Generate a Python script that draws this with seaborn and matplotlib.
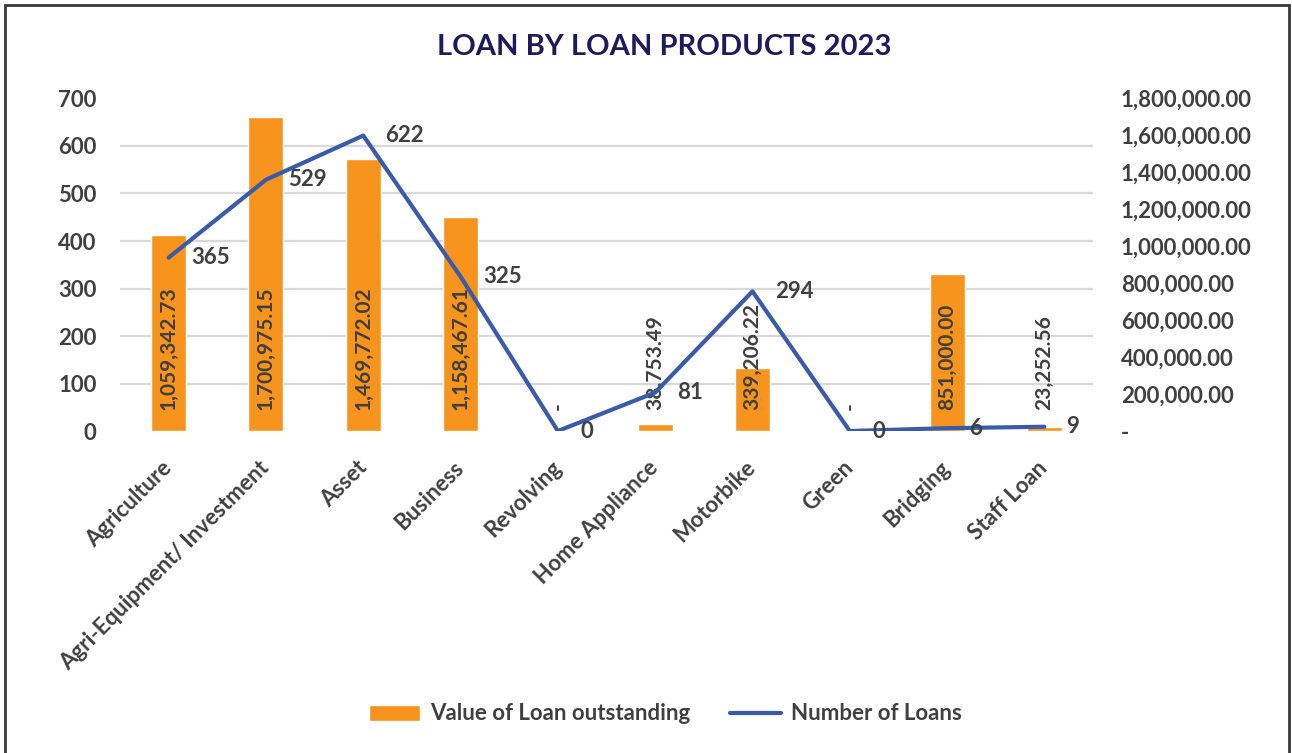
import numpy as np
import pandas as pd
import matplotlib.pyplot as plt
import seaborn as sns
from matplotlib.patches import Rectangle
from matplotlib.ticker import FuncFormatter

# chart data
products = ['Agriculture', 'Agri-Equipment/ Investment', 'Asset', 'Business', 'Revolving',
            'Home Appliance', 'Motorbike', 'Green', 'Bridging', 'Staff Loan']
loan_value = [1059342.73, 1700975.15, 1469772.02, 1158467.61, 0.0,
              38753.49, 339206.22, 0.0, 851000.00, 23252.56]
loan_count = [365, 529, 622, 325, 0, 81, 294, 0, 6, 9]

df = pd.DataFrame({'product': products, 'value': loan_value, 'count': loan_count})

ORANGE = '#F7941D'
BLUE = '#3A5BA9'
GREY_TXT = '#404040'

sns.set_style('white')
plt.rcParams['font.family'] = ['Lato', 'DejaVu Sans']
plt.rcParams['font.weight'] = 'bold'

fig = plt.figure(figsize=(12.92, 7.53), dpi=100)
ax = fig.add_axes([0.0929, 0.4276, 0.7531, 0.4416])

# bars on the value axis (drawn first, shown on the right)
sns.barplot(data=df, x='product', y='value', color=ORANGE, saturation=1,
            width=0.36, ax=ax, label='Value of Loan outstanding')
ax.set_ylim(0, 1800000)
ax.set_xlim(-0.5, len(products) - 0.5)
if ax.get_legend():
    ax.get_legend().remove()

# line on the count axis
ax2 = ax.twinx()
sns.lineplot(data=df, x=df.index, y='count', color=BLUE, lw=3, sort=False,
             ax=ax2, label='Number of Loans')
ax2.set_ylim(0, 700)
ax2.set_yticks(np.arange(0, 701, 100))
ax2.get_legend().remove()

# gridlines follow the left (count) axis: 7 steps of 100 loans
ax.set_yticks(np.linspace(0, 1800000, 8), minor=True)
ax.set_yticks(np.arange(0, 1800001, 200000))
ax.grid(False)
ax.grid(True, which='minor', axis='y', color='#D9D9D9', lw=1.6)
ax.set_axisbelow(True)
ax.yaxis.tick_right()
ax2.yaxis.tick_left()
ax.yaxis.set_major_formatter(FuncFormatter(lambda v, p: f'{v:,.2f}' if v else '-'))
ax.tick_params(axis='y', which='both', length=0, pad=20)
ax2.tick_params(axis='y', length=0, pad=17)
for lab in ax.get_yticklabels() + ax2.get_yticklabels():
    lab.set_fontsize(16)
    lab.set_fontweight('bold')
    lab.set_color(GREY_TXT)

for a in (ax, ax2):
    for s in a.spines.values():
        s.set_visible(False)
    a.set_xlabel('')
    a.set_ylabel('')

ax.set_xticks(range(len(products)))
ax.set_xticklabels(products, rotation=45, ha='right', va='center',
                   rotation_mode='anchor', fontsize=16, fontweight='bold', color=GREY_TXT)
ax.tick_params(axis='x', length=0, pad=24)

# data labels
for i, v in enumerate(loan_value):
    ax.annotate(f'{v:,.2f}' if v else '-', (i, 0), xytext=(0, 15),
                textcoords='offset points', rotation=90, ha='center', va='bottom',
                fontsize=15, fontweight='bold', color=GREY_TXT)
for i, n in enumerate(loan_count):
    ax2.annotate(str(n), (i, n), xytext=(16, 0), textcoords='offset points',
                 ha='left', va='center', fontsize=16, fontweight='bold', color=GREY_TXT)

fig.text(0.514, 1 - 47 / 753, 'LOAN BY LOAN PRODUCTS 2023', ha='center', va='center',
         fontsize=21, fontweight='bold', color='#1E1A5C')

h1, l1 = ax.get_legend_handles_labels()
h2, l2 = ax2.get_legend_handles_labels()
fig.legend(h1 + h2, l1 + l2, loc='center', bbox_to_anchor=(0.515, 1 - 714 / 753),
           ncol=2, frameon=False, handlelength=2.3, handletextpad=0.45,
           columnspacing=1.8, labelcolor=GREY_TXT,
           prop={'size': 16, 'weight': 'bold'})

fig.patches.append(Rectangle((5 / 1292, -0.1), 1284 / 1292, (748 / 753) + 0.1,
                             transform=fig.transFigure, fill=False, lw=2, ec='#3A3A3A'))

fig.savefig('out.png', dpi=100)
